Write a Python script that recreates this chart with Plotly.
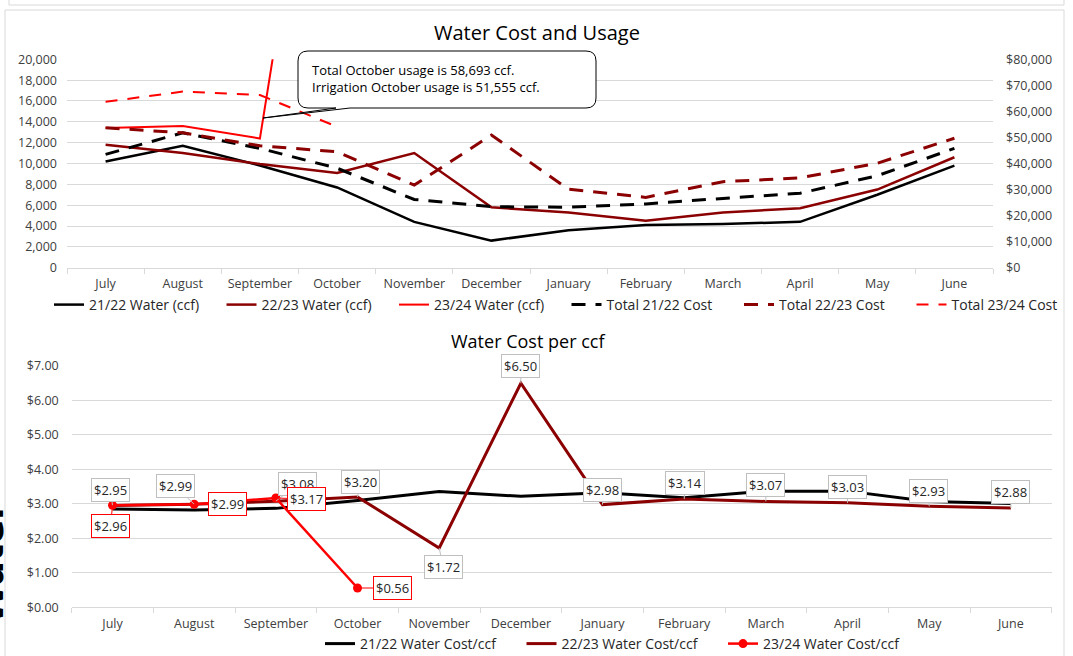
import plotly.graph_objects as go

W, H = 1073, 656

months = ["July", "August", "September", "October", "November", "December",
          "January", "February", "March", "April", "May", "June"]

# Top chart: usage (ccf, left axis) and total cost ($, right axis)
water_2122 = [10200, 11700, 9800, 7700, 4400, 2600, 3600, 4100, 4200, 4400, 7000, 9800]
water_2223 = [11800, 11000, 9950, 9100, 11000, 5800, 5300, 4500, 5300, 5700, 7500, 10600]
water_2324 = [13400, 13600, 12400, 58693, None, None, None, None, None, None, None, None]
cost_2122 = [43500, 51800, 45800, 38200, 26200, 23400, 23200, 24500, 26600, 28600, 35300, 45800]
cost_2223 = [53700, 51800, 46800, 44500, 31700, 50900, 30100, 27000, 33000, 34500, 40100, 49700]
cost_2324 = [63700, 67600, 66300, 54100, None, None, None, None, None, None, None, None]

# Bottom chart: cost per ccf
cpc_2122 = [2.85, 2.82, 2.87, 3.10, 3.36, 3.22, 3.32, 3.18, 3.37, 3.37, 3.07, 3.01]
cpc_2223 = [2.95, 2.99, 3.08, 3.20, 1.72, 6.50, 2.98, 3.14, 3.07, 3.03, 2.93, 2.88]
cpc_2324 = [2.96, 2.99, 3.17, 0.56, None, None, None, None, None, None, None, None]

callout_lines = ["Total October usage is 58,693 ccf.",
                 "Irrigation October usage is 51,555 ccf."]

# label box offsets (pixels) for the data-label callouts
off_2223 = [(-2, -16), (-19, -18), (22, -17), (3, -15), (4, 19), (0, -17),
            (0, -15), (1, -16), (0, -16), (0, -16), (-1, -15), (0, -16)]
off_2324 = [(-2, 21), (33, 0), (31, 1), (35, 0)]

BLACK = "#000000"
DARKRED = "#8B0000"
RED = "#FF0000"
GRID = "#d9d9d9"
TXT = "#404040"
FONT = "Open Sans"


def px(x):
    return x / W


def py(y):
    return 1 - y / H


fig = go.Figure()

# ---- top chart ----
fig.add_trace(go.Scatter(x=months, y=water_2122, name="21/22 Water (ccf)", mode="lines",
                         line=dict(color=BLACK, width=2.5), xaxis="x", yaxis="y", legend="legend"))
fig.add_trace(go.Scatter(x=months, y=water_2223, name="22/23 Water (ccf)", mode="lines",
                         line=dict(color=DARKRED, width=2.5), xaxis="x", yaxis="y", legend="legend"))
fig.add_trace(go.Scatter(x=months, y=water_2324, name="23/24 Water (ccf)", mode="lines",
                         line=dict(color=RED, width=2), xaxis="x", yaxis="y", legend="legend"))
fig.add_trace(go.Scatter(x=months, y=cost_2122, name="Total 21/22 Cost", mode="lines",
                         line=dict(color=BLACK, width=3, dash="14px,10px"), xaxis="x", yaxis="y2", legend="legend"))
fig.add_trace(go.Scatter(x=months, y=cost_2223, name="Total 22/23 Cost", mode="lines",
                         line=dict(color=DARKRED, width=3, dash="14px,10px"), xaxis="x", yaxis="y2", legend="legend"))
fig.add_trace(go.Scatter(x=months, y=cost_2324, name="Total 23/24 Cost", mode="lines",
                         line=dict(color=RED, width=2, dash="12px,10px"), xaxis="x", yaxis="y2", legend="legend"))

# ---- bottom chart ----
fig.add_trace(go.Scatter(x=months, y=cpc_2122, name="21/22 Water Cost/ccf", mode="lines",
                         line=dict(color=BLACK, width=3), xaxis="x2", yaxis="y3", legend="legend2"))
fig.add_trace(go.Scatter(x=months, y=cpc_2223, name="22/23 Water Cost/ccf", mode="lines",
                         line=dict(color=DARKRED, width=3), xaxis="x2", yaxis="y3", legend="legend2"))
fig.add_trace(go.Scatter(x=months, y=cpc_2324, name="23/24 Water Cost/ccf", mode="lines+markers",
                         line=dict(color=RED, width=2.5), marker=dict(color=RED, size=9),
                         xaxis="x2", yaxis="y3", legend="legend2"))

LBL_FONT = dict(family=FONT, size=13, color="#262626")
annotations = []
for i, v in enumerate(cpc_2223):
    ax, ay = off_2223[i]
    annotations.append(dict(x=months[i], y=v, xref="x2", yref="y3", text=f"${v:.2f}",
                            showarrow=True, arrowhead=0, arrowwidth=1, arrowcolor="#bfbfbf",
                            ax=ax, ay=ay, bgcolor="white", bordercolor="#bfbfbf", borderwidth=1,
                            borderpad=2, font=LBL_FONT))
for i, v in enumerate(cpc_2324):
    if v is None:
        continue
    ax, ay = off_2324[i]
    annotations.append(dict(x=months[i], y=v, xref="x2", yref="y3", text=f"${v:.2f}",
                            showarrow=True, arrowhead=0, arrowwidth=1, arrowcolor=RED,
                            ax=ax, ay=ay, bgcolor="white", bordercolor=RED, borderwidth=1,
                            borderpad=2, font=LBL_FONT))

# titles
annotations.append(dict(x=px(537), y=py(33), xref="paper", yref="paper", text="Water Cost and Usage",
                        showarrow=False, xanchor="center", yanchor="middle",
                        font=dict(family=FONT, size=20, color="#000000")))
annotations.append(dict(x=px(528), y=py(341), xref="paper", yref="paper", text="Water Cost per ccf",
                        showarrow=False, xanchor="center", yanchor="middle",
                        font=dict(family=FONT, size=18, color="#000000")))
# callout text
annotations.append(dict(x=px(310), y=py(79), xref="paper", yref="paper",
                        text="<br>".join(callout_lines), align="left",
                        showarrow=False, xanchor="left", yanchor="middle",
                        font=dict(family=FONT, size=13, color="#000000")))
# clipped word at far left
annotations.append(dict(x=px(-10), y=py(563), xref="paper", yref="paper", text="<b>Water</b>",
                        textangle=-90, showarrow=False, xanchor="center", yanchor="middle",
                        font=dict(family="DejaVu Sans", size=36, color="#000000")))


def rounded_callout(x0, y0, x1, y1, r, tip, b0, b1):
    pts = [
        f"M{px(x0 + r)},{py(y0)}",
        f"L{px(x1 - r)},{py(y0)}",
        f"Q{px(x1)},{py(y0)} {px(x1)},{py(y0 + r)}",
        f"L{px(x1)},{py(y1 - r)}",
        f"Q{px(x1)},{py(y1)} {px(x1 - r)},{py(y1)}",
        f"L{px(b1)},{py(y1)}",
        f"L{px(tip[0])},{py(tip[1])}",
        f"L{px(b0)},{py(y1)}",
        f"L{px(x0 + r)},{py(y1)}",
        f"Q{px(x0)},{py(y1)} {px(x0)},{py(y1 - r)}",
        f"L{px(x0)},{py(y0 + r)}",
        f"Q{px(x0)},{py(y0)} {px(x0 + r)},{py(y0)}",
        "Z",
    ]
    return " ".join(pts)


shapes = [
    # chart frame
    dict(type="rect", xref="paper", yref="paper", x0=px(5), x1=px(1064), y0=py(700), y1=py(10),
         line=dict(color=GRID, width=1), fillcolor="rgba(0,0,0,0)", layer="below"),
    # bottom of a frame above
    dict(type="path", xref="paper", yref="paper",
         path=f"M{px(9)},{py(-5)} L{px(9)},{py(5)} L{px(1064)},{py(5)} L{px(1064)},{py(-5)}",
         line=dict(color=GRID, width=1), layer="below"),
    # callout box
    dict(type="path", xref="paper", yref="paper",
         path=rounded_callout(298, 51, 596, 108, 10, (263, 118), 336, 350),
         line=dict(color="#000000", width=1), fillcolor="white", layer="above"),
]

TICKF = dict(family=FONT, size=12.5, color=TXT)

fig.update_layout(
    width=W, height=H,
    margin=dict(l=0, r=0, t=0, b=0, autoexpand=False),
    paper_bgcolor="white", plot_bgcolor="white",
    font=dict(family=FONT, size=12.5, color=TXT),
    xaxis=dict(domain=[px(67), px(993)], anchor="y", type="category", categoryorder="array",
               categoryarray=months, range=[-0.5, 11.5], showline=True, linecolor=GRID,
               ticks="outside", tickson="boundaries", ticklen=5, tickcolor=GRID,
               showgrid=False, zeroline=False, tickfont=TICKF, automargin=False,
               ticklabelstandoff=4),
    yaxis=dict(domain=[py(267.7), py(59.3)], anchor="x", range=[0, 20000], dtick=2000,
               tickformat=",", showgrid=True, gridcolor=GRID, gridwidth=1, zeroline=False,
               showline=False, ticks="", tickfont=TICKF, automargin=False, ticklabelstandoff=9),
    yaxis2=dict(overlaying="y", side="right", anchor="x", range=[0, 80000], dtick=10000,
                tickprefix="$", tickformat=",", showgrid=False, zeroline=False,
                showline=False, ticks="", tickfont=TICKF, automargin=False, ticklabelstandoff=12),
    xaxis2=dict(domain=[px(71.7), px(1051.7)], anchor="y3", type="category", categoryorder="array",
                categoryarray=months, range=[-0.5, 11.5], showline=True, linecolor=GRID,
                ticks="outside", tickson="boundaries", ticklen=5, tickcolor=GRID,
                showgrid=False, zeroline=False, tickfont=TICKF, automargin=False,
                ticklabelstandoff=5),
    yaxis3=dict(domain=[py(607.3), py(366)], anchor="x2", range=[0, 7], dtick=1,
                tickprefix="$", tickformat=".2f", showgrid=True, gridcolor=GRID, gridwidth=1,
                zeroline=False, showline=False, ticks="", tickfont=TICKF, automargin=False,
                ticklabelstandoff=12),
    legend=dict(orientation="h", x=px(49), xanchor="left", y=py(305), yanchor="middle",
                entrywidth=127.5, entrywidthmode="pixels", bgcolor="rgba(0,0,0,0)",
                font=dict(family=FONT, size=14, color="#262626")),
    legend2=dict(orientation="h", x=px(320), xanchor="left", y=py(644), yanchor="middle",
                 entrywidth=156.5, entrywidthmode="pixels", bgcolor="rgba(0,0,0,0)",
                 font=dict(family=FONT, size=14, color="#262626")),
    annotations=annotations,
    shapes=shapes,
    hovermode=False,
)

fig.write_html("out.html", config={"displayModeBar": False},
               post_script="document.body.style.margin='0';document.body.style.overflow='hidden';")
